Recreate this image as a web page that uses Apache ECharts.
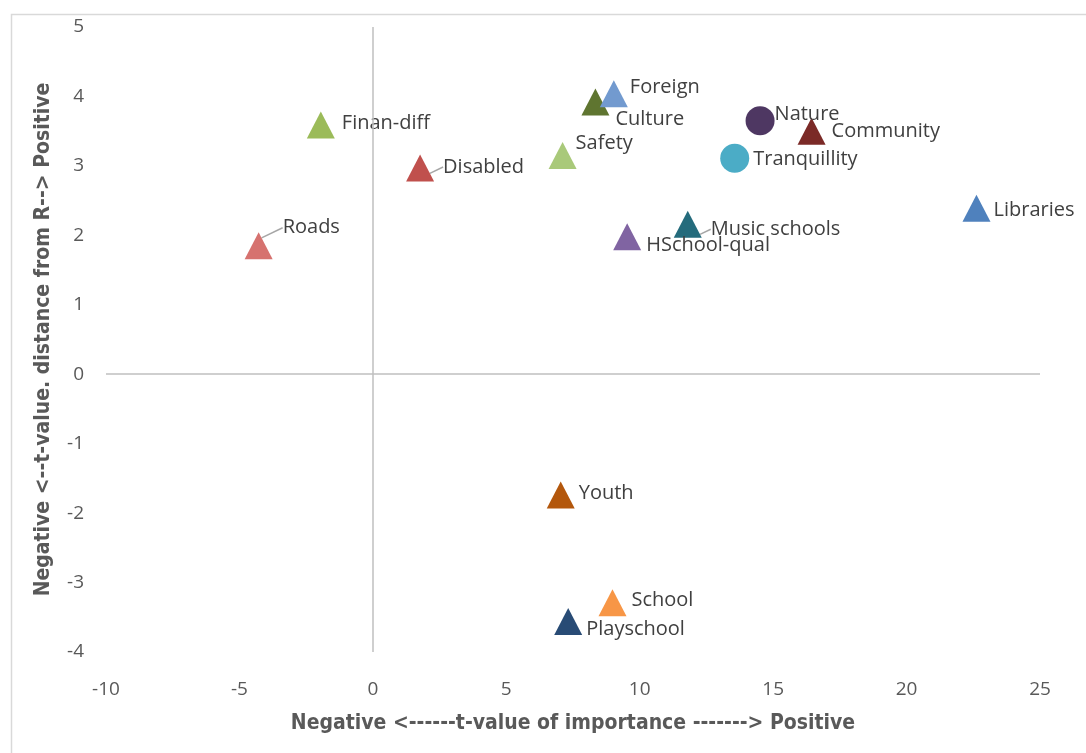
<!DOCTYPE html>
<html>
<head>
<meta charset="utf-8">
<title>t-value scatter</title>
<script src="https://cdn.jsdelivr.net/npm/echarts@6/dist/echarts.min.js"></script>
<style>
  html, body { margin: 0; padding: 0; background: #fff; }
  #chart { width: 1086px; height: 753px; }
</style>
</head>
<body>
<div id="chart"></div>
<script>
// 数据
const itemNames = ['Roads', 'Finan-diff', 'Disabled', 'Safety', 'Culture', 'Foreign', 'Nature',
  'Community', 'Tranquillity', 'Libraries', 'Music schools', 'HSchool-qual', 'Youth', 'School', 'Playschool'];
const tImportance = [-4.28, -1.95, 1.77, 7.11, 8.34, 9.03, 14.51, 16.44, 13.56, 22.62, 11.80, 9.53, 7.04, 8.98, 7.32];
const tDistance = [1.85, 3.59, 2.97, 3.15, 3.92, 4.04, 3.65, 3.50, 3.11, 2.39, 2.16, 1.98, -1.74, -3.29, -3.56];
const xTicks = [-10, -5, 0, 5, 10, 15, 20, 25];
const yTicks = [-4, -3, -2, -1, 0, 1, 2, 3, 4, 5];

// 颜色与样式
const pointColors = ['#D6726F', '#9BBB59', '#C0504D', '#A9C97A', '#5F7530', '#729ACF', '#4E3762',
  '#7B2A27', '#4BACC6', '#4F81BD', '#246B7C', '#8064A2', '#B3570C', '#F79646', '#284B75'];
const circleItems = ['Nature', 'Tranquillity'];
const leaderItems = ['Roads', 'Disabled', 'Music schools'];
const labelOffsets = {
  'Roads': [10, -18], 'Finan-diff': [7, -2], 'Disabled': [9, -1], 'Safety': [-1, -12],
  'Culture': [6, 17], 'Foreign': [2, -6], 'Nature': [0, -6], 'Community': [6, 0],
  'Tranquillity': [4, 1], 'Libraries': [3, 2], 'Music schools': [9, 5], 'HSchool-qual': [5, 9],
  'Youth': [4, -2], 'School': [5, -2], 'Playschool': [4, 8]
};

const labelFont = "'Open Sans', 'Noto Sans', sans-serif";
const titleFont = "'Liberation Sans Narrow', 'DejaVu Sans Condensed', sans-serif";

const chart = echarts.init(document.getElementById('chart'));

const points = itemNames.map((name, i) => {
  const isCircle = circleItems.includes(name);
  return {
    name: name,
    value: [tImportance[i], tDistance[i]],
    symbol: isCircle ? 'circle' : 'triangle',
    symbolSize: isCircle ? 29 : [28, 27],
    itemStyle: { color: pointColors[i], opacity: 1 },
    labelLine: { show: leaderItems.includes(name) }
  };
});

const option = {
  animation: false,
  graphic: [{
    type: 'rect',
    left: 9,
    top: 12,
    shape: { width: 1200, height: 900 },
    style: { fill: 'none', stroke: '#D9D9D9', lineWidth: 1.5 },
    silent: true
  }],
  grid: { left: 106, right: 46, top: 27, bottom: 101 },
  xAxis: {
    type: 'value',
    min: xTicks[0],
    max: xTicks[xTicks.length - 1],
    interval: 5,
    name: 'Negative <------t-value of importance -------> Positive',
    nameLocation: 'middle',
    nameGap: 61,
    nameTextStyle: { fontFamily: titleFont, fontWeight: 'bold', fontSize: 21, color: '#595959' },
    axisLine: { show: false, onZero: false },
    axisTick: { show: false },
    splitLine: { show: false },
    axisLabel: { fontFamily: labelFont, fontSize: 19, color: '#595959', margin: 28 }
  },
  yAxis: {
    type: 'value',
    min: yTicks[0],
    max: yTicks[yTicks.length - 1],
    interval: 1,
    name: 'Negative <--t-value. distance from R--> Positive',
    nameLocation: 'middle',
    nameGap: 52,
    nameTextStyle: { fontFamily: titleFont, fontWeight: 'bold', fontSize: 21, color: '#595959' },
    axisLine: { show: false, onZero: false },
    axisTick: { show: false },
    splitLine: { show: false },
    axisLabel: { fontFamily: labelFont, fontSize: 19, color: '#595959', margin: 22 }
  },
  series: [{
    type: 'scatter',
    data: points,
    label: {
      show: true,
      position: 'right',
      distance: 0,
      formatter: '{b}',
      fontFamily: labelFont,
      fontSize: 20,
      color: '#404040'
    },
    labelLine: { lineStyle: { color: '#A6A6A6', width: 1.5 } },
    labelLayout: function (params) {
      const off = labelOffsets[itemNames[params.dataIndex]] || [0, 0];
      return { dx: off[0], dy: off[1] };
    },
    emphasis: { disabled: true },
    markLine: {
      silent: true,
      symbol: 'none',
      label: { show: false },
      lineStyle: { color: '#BFBFBF', width: 1.5, type: 'solid' },
      data: [{ xAxis: 0 }, { yAxis: 0 }]
    },
    z: 3
  }]
};

chart.setOption(option);
window.addEventListener('resize', () => chart.resize());
</script>
</body>
</html>
